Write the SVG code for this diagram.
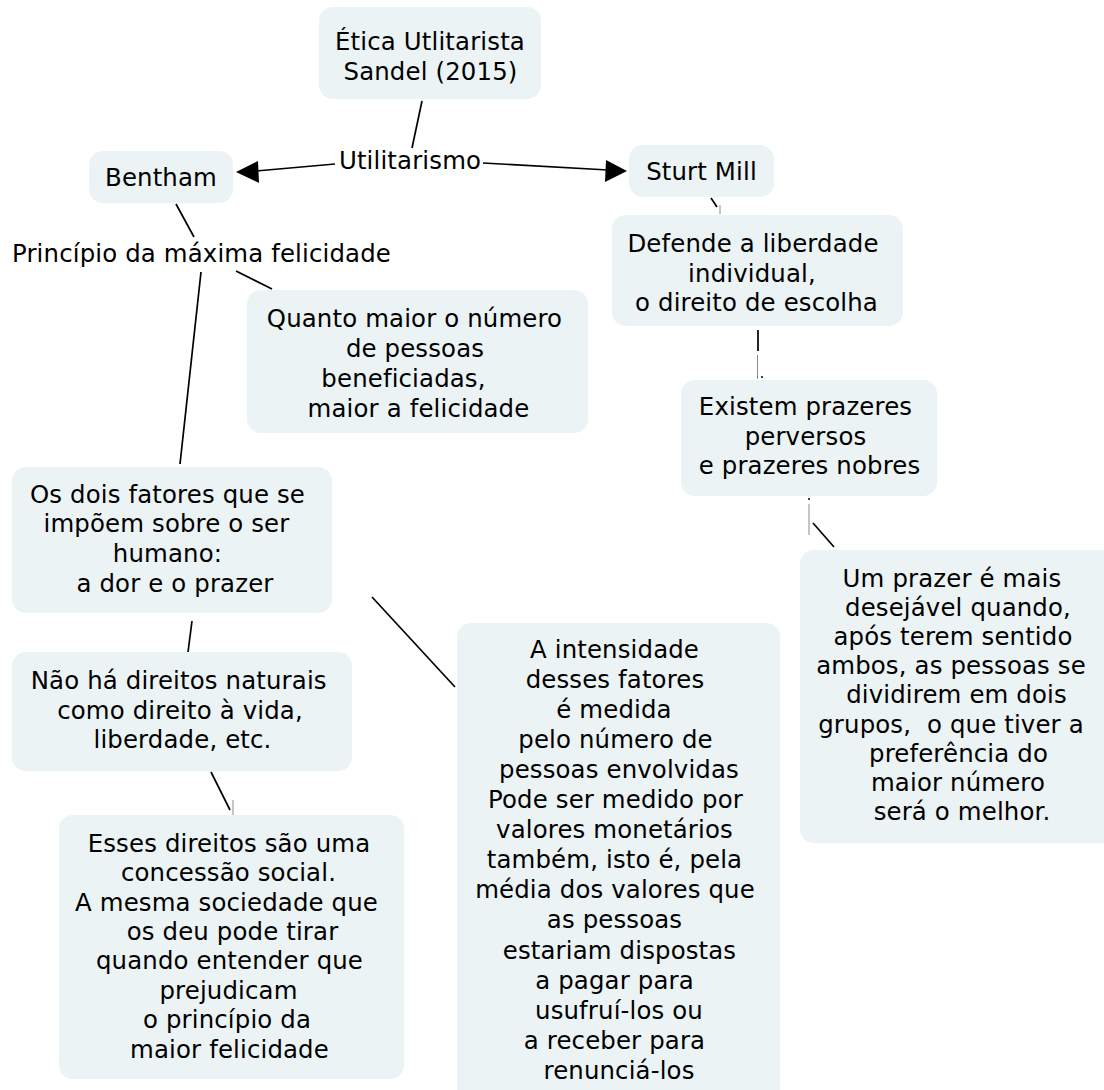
<svg xmlns="http://www.w3.org/2000/svg" width="1104" height="1090" viewBox="0 0 1104 1090">
<style>
.box{fill:#ebf3f5;stroke:none}
text{font-family:"DejaVu Sans",Verdana,sans-serif;font-size:24.4px;fill:#000;text-anchor:middle;letter-spacing:0.15px;white-space:pre}
.ln{stroke:#000;stroke-width:1.7;fill:none}
.thin{stroke:#8a8a8a;stroke-width:1;fill:none}
.ah{fill:#000}
</style>
<rect width="1104" height="1090" fill="#fff"/>
<g id="connectors">
<line class="ln" x1="422" y1="101" x2="412" y2="148"/>
<line class="ln" x1="335" y1="164" x2="256" y2="171"/>
<polygon class="ah" points="236,172 258,161 259,183"/>
<line class="ln" x1="483" y1="163" x2="608" y2="170"/>
<polygon class="ah" points="627,171 606,160 605,182"/>
<line class="ln" x1="176" y1="204" x2="194" y2="237"/>
<line class="ln" x1="236" y1="271" x2="272" y2="289"/>
<line class="ln" x1="201" y1="272" x2="180" y2="464"/>
<line class="ln" x1="711" y1="198" x2="717" y2="207"/>
<line class="thin" x1="720" y1="205" x2="720" y2="214"/>
<line class="ln" x1="758" y1="330" x2="758" y2="351"/>
<line class="thin" x1="757.5" y1="355" x2="757.5" y2="379"/>
<circle cx="762" cy="377" r="1" fill="#000"/>
<circle cx="809" cy="499" r="1" fill="#000"/>
<line class="thin" x1="809" y1="504" x2="809" y2="535"/>
<line class="ln" x1="813" y1="523" x2="834" y2="547"/>
<line class="ln" x1="192" y1="621" x2="188" y2="652"/>
<line class="ln" x1="211" y1="772" x2="230" y2="810"/>
<line class="thin" x1="233" y1="800" x2="233" y2="815"/>
<line class="ln" x1="372" y1="597" x2="455" y2="687"/>
</g>
<g id="n-etica">
<rect class="box" x="319" y="7" width="222" height="92" rx="14"/>
<text x="430" y="50">Ética Utlitarista</text>
<text x="430.5" y="80">Sandel (2015)</text>
</g>
<g id="n-utilitarismo">
<text x="410" y="169">Utilitarismo</text>
</g>
<g id="n-bentham">
<rect class="box" x="89" y="151" width="144" height="52" rx="14"/>
<text x="161" y="186">Bentham</text>
</g>
<g id="n-sturt">
<rect class="box" x="629" y="145" width="145" height="52" rx="14"/>
<text x="701.5" y="180">Sturt Mill</text>
</g>
<g id="n-principio">
<text x="201.5" y="262">Princípio da máxima felicidade</text>
</g>
<g id="n-quanto">
<rect class="box" x="247" y="290" width="341" height="143" rx="14"/>
<text x="414.5" y="327">Quanto maior o número</text>
<text x="415" y="357">de pessoas</text>
<text x="403.5" y="387">beneficiadas,</text>
<text x="418.5" y="417">maior a felicidade</text>
</g>
<g id="n-defende">
<rect class="box" x="612" y="215" width="291" height="111" rx="14"/>
<text x="753" y="252">Defende a liberdade</text>
<text x="752" y="281.5">individual,</text>
<text x="756.5" y="311">o direito de escolha</text>
</g>
<g id="n-existem">
<rect class="box" x="681" y="380" width="256" height="116" rx="14"/>
<text x="805.5" y="415">Existem prazeres</text>
<text x="805.5" y="445">perversos</text>
<text x="809.5" y="474">e prazeres nobres</text>
</g>
<g id="n-osdois">
<rect class="box" x="12" y="467" width="320" height="146" rx="14"/>
<text x="167.5" y="503">Os dois fatores que se</text>
<text x="166.5" y="532">impõem sobre o ser</text>
<text x="167.5" y="562">humano:</text>
<text x="175" y="592">a dor e o prazer</text>
</g>
<g id="n-naoha">
<rect class="box" x="12" y="652" width="340" height="119" rx="14"/>
<text x="178.7" y="689">Não há direitos naturais</text>
<text x="180" y="719">como direito à vida,</text>
<text x="182.5" y="748">liberdade, etc.</text>
</g>
<g id="n-esses">
<rect class="box" x="59" y="815" width="345" height="264" rx="14"/>
<text x="229" y="852">Esses direitos são uma</text>
<text x="228.5" y="881">concessão social.</text>
<text x="226.5" y="911">A mesma sociedade que</text>
<text x="232.5" y="940">os deu pode tirar</text>
<text x="229.5" y="969">quando entender que</text>
<text x="228.5" y="999">prejudicam</text>
<text x="227" y="1028">o princípio da</text>
<text x="229.5" y="1058">maior felicidade</text>
</g>
<g id="n-intensidade">
<rect class="box" x="457" y="623" width="323" height="480" rx="14"/>
<text x="614.5" y="658">A intensidade</text>
<text x="615" y="688">desses fatores</text>
<text x="614" y="718">é medida</text>
<text x="615.5" y="748">pelo número de</text>
<text x="619" y="778">pessoas envolvidas</text>
<text x="615.5" y="808">Pode ser medido por</text>
<text x="614.5" y="838">valores monetários</text>
<text x="614.5" y="868">também, isto é, pela</text>
<text x="615" y="898">média dos valores que</text>
<text x="614.5" y="928">as pessoas</text>
<text x="619.5" y="959">estariam dispostas</text>
<text x="614.5" y="989">a pagar para</text>
<text x="619" y="1019">usufruí-los ou</text>
<text x="614.5" y="1049">a receber para</text>
<text x="619" y="1079">renunciá-los</text>
</g>
<g id="n-umprazer">
<rect class="box" x="800" y="550" width="320" height="293" rx="14"/>
<text x="952" y="587">Um prazer é mais</text>
<text x="958" y="616">desejável quando,</text>
<text x="953" y="645">após terem sentido</text>
<text x="951" y="674">ambos, as pessoas se</text>
<text x="956.5" y="703">dividirem em dois</text>
<text x="951" y="733">grupos,  o que tiver a</text>
<text x="958.5" y="762">preferência do</text>
<text x="958" y="791">maior número</text>
<text x="962" y="820">será o melhor.</text>
</g>
</svg>
